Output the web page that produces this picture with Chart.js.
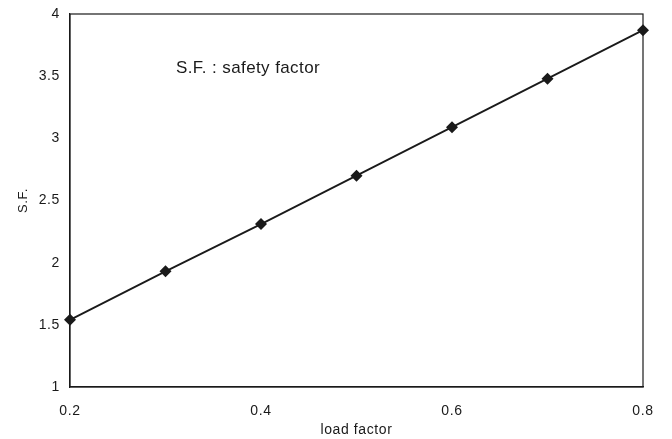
<!DOCTYPE html>
<html>
<head>
<meta charset="utf-8">
<script src="https://cdn.jsdelivr.net/npm/chart.js@4/dist/chart.umd.min.js"></script>
<style>
html,body{margin:0;padding:0;background:#fff;}
#wrap{width:672px;height:439px;position:relative;}
</style>
</head>
<body>
<div id="wrap"><canvas id="c" width="672" height="439"></canvas></div>
<script>
const loadFactor = [0.2, 0.3, 0.4, 0.5, 0.6, 0.7, 0.8];
const safetyFactor = [1.54, 1.93, 2.31, 2.70, 3.09, 3.48, 3.87];
const xTicks = [0.2, 0.4, 0.6, 0.8];
const yTicks = [1, 1.5, 2, 2.5, 3, 3.5, 4];
const xTitle = 'load factor';
const yTitle = 'S.F.';
const noteText = 'S.F. : safety factor';
const notePos = {x: 0.311, y: 3.56};

const FONT = "'Liberation Sans', Arial, sans-serif";
const INK = '#1a1a1a';

const framePlugin = {
  id: 'frame',
  beforeDraw(chart) {
    chart.ctx.letterSpacing = '0.6px';
  },
  afterDraw(chart) {
    const {ctx, chartArea: a, scales} = chart;
    ctx.save();
    ctx.strokeStyle = INK;
    ctx.lineWidth = 1.2;
    ctx.strokeRect(a.left, a.top, a.right - a.left, a.bottom - a.top);
    ctx.fillStyle = INK;
    ctx.font = "17px " + FONT;
    ctx.letterSpacing = '0.4px';
    ctx.textBaseline = 'middle';
    ctx.textAlign = 'left';
    ctx.fillText(noteText, scales.x.getPixelForValue(notePos.x), scales.y.getPixelForValue(notePos.y));
    ctx.restore();
  }
};

new Chart(document.getElementById('c'), {
  type: 'line',
  data: {
    datasets: [{
      data: loadFactor.map((x, i) => ({x, y: safetyFactor[i]})),
      borderColor: INK,
      borderWidth: 1.8,
      backgroundColor: INK,
      pointStyle: 'rectRot',
      pointRadius: 6,
      pointBorderWidth: 0,
      tension: 0,
      fill: false,
      clip: false
    }]
  },
  options: {
    responsive: false,
    animation: false,
    layout: {padding: {left: 0, right: 29, top: 14, bottom: 0}},
    plugins: {legend: {display: false}, tooltip: {enabled: false}},
    scales: {
      x: {
        type: 'linear',
        min: 0.2, max: 0.8,
        afterBuildTicks: s => { s.ticks = xTicks.map(v => ({value: v})); },
        afterFit: s => { s.height = 52; s.paddingLeft = 0; s.paddingRight = 0; },
        grid: {display: false, drawTicks: false},
        border: {display: true, color: INK, width: 1.2},
        ticks: {
          color: INK, padding: 16,
          font: {family: FONT, size: 14},
          callback: v => String(v)
        },
        title: {display: true, text: xTitle, color: INK, font: {family: FONT, size: 14}, padding: {top: 0, bottom: 0}}
      },
      y: {
        type: 'linear',
        min: 1, max: 4,
        afterBuildTicks: s => { s.ticks = yTicks.map(v => ({value: v})); },
        afterFit: s => { s.width = 70; s.paddingTop = 0; s.paddingBottom = 0; },
        grid: {display: false, drawTicks: false},
        border: {display: true, color: INK, width: 1.2},
        ticks: {
          color: INK, padding: 10,
          font: {family: FONT, size: 14},
          callback: v => String(v)
        },
        title: {display: true, text: yTitle, color: INK, font: {family: FONT, size: 13}, padding: {top: 16, bottom: 0}}
      }
    }
  },
  plugins: [framePlugin]
});
</script>
</body>
</html>
